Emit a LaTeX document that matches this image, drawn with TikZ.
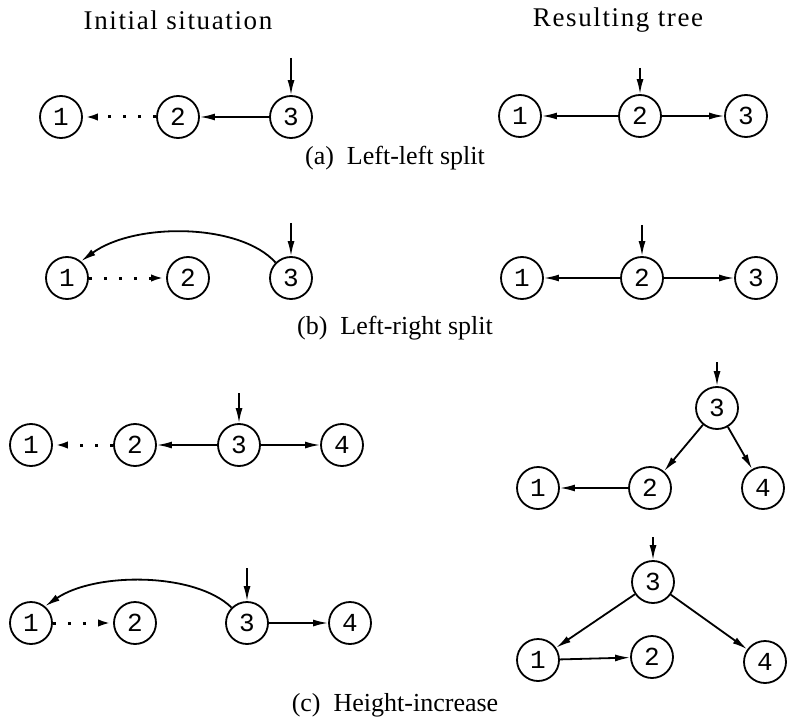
\documentclass[tikz,border=0pt]{standalone}
\usepackage{fontspec}
\setmainfont{Liberation Serif}
\setmonofont{Liberation Mono}
\usetikzlibrary{arrows.meta}
\begin{document}
\begin{tikzpicture}[x=1pt,y=-1pt,
  nd/.style={circle,draw,line width=1.8pt,minimum size=42pt,inner sep=0pt,font=\ttfamily\fontsize{26}{26}\selectfont},
  arr/.style={line width=1.8pt,-{Latex[length=15pt,width=7pt]}},
  dotarr/.style={line width=3pt,dash pattern=on 3pt off 12pt,-{Latex[length=15pt,width=7pt]}},
  lbl/.style={font=\fontsize{26}{28}\selectfont},
  ttl/.style={font=\fontsize{27}{30}\selectfont\addfontfeature{LetterSpace=6}}]
\useasboundingbox (0,0) rectangle (787,722);
% titles
\node[ttl] (t1) at (178,20) {Initial situation};
\node[ttl] (t2) at (618,20) {Resulting tree};
% (a) initial
\node[nd] (a1) at (61,117) {1};
\node[nd] (a2) at (178,117) {2};
\node[nd] (a3) at (291,117) {3};
\coordinate (ia) at (291,58);
\draw[dotarr] (a2) -- (a1);
\draw[arr] (a3) -- (a2);
\draw[arr] (ia) -- (a3);
% (a) result
\node[nd] (ra1) at (520,116) {1};
\node[nd] (ra2) at (640,116) {2};
\node[nd] (ra3) at (746,116) {3};
\coordinate (ira) at (640,68);
\draw[arr] (ra2) -- (ra1);
\draw[arr] (ra2) -- (ra3);
\draw[arr] (ira) -- (ra2);
\node[lbl] (ca) at (395,158) {(a)\ \ Left-left split};
% (b) initial
\node[nd] (b1) at (67,278) {1};
\node[nd] (b2) at (188,278) {2};
\node[nd] (b3) at (291,278) {3};
\coordinate (ib) at (291,223);
\draw[dotarr] (b1) -- (b2);
\draw[arr] (b3.135) .. controls (240,223) and (135,222) .. (b1.50);
\draw[arr] (ib) -- (b3);
% (b) result
\node[nd] (rb1) at (522,278) {1};
\node[nd] (rb2) at (642,278) {2};
\node[nd] (rb3) at (756,278) {3};
\coordinate (irb) at (642,225);
\draw[arr] (rb2) -- (rb1);
\draw[arr] (rb2) -- (rb3);
\draw[arr] (irb) -- (rb2);
\node[lbl] (cb) at (395,328) {(b)\ \ Left-right split};
% (c) initial top
\node[nd] (c1) at (31,445) {1};
\node[nd] (c2) at (135,445) {2};
\node[nd] (c3) at (239,445) {3};
\node[nd] (c4) at (342,445) {4};
\coordinate (ic) at (239,393);
\draw[dotarr] (c2) -- (c1);
\draw[arr] (c3) -- (c2);
\draw[arr] (c3) -- (c4);
\draw[arr] (ic) -- (c3);
% (c) result top
\node[nd] (rc3) at (717,408) {3};
\node[nd] (rc2) at (650,488) {2};
\node[nd] (rc1) at (538,488) {1};
\node[nd] (rc4) at (763,488) {4};
\coordinate (irc) at (717,362);
\draw[arr] (rc3) -- (rc2);
\draw[arr] (rc3) -- (rc4);
\draw[arr] (rc2) -- (rc1);
\draw[arr] (irc) -- (rc3);
% (c) initial bottom
\node[nd] (d1) at (31,623) {1};
\node[nd] (d2) at (135,623) {2};
\node[nd] (d3) at (247,623) {3};
\node[nd] (d4) at (350,623) {4};
\coordinate (id) at (247,568);
\draw[dotarr] (d1) -- (d2);
\draw[arr] (d3.135) .. controls (195,572) and (95,572) .. (d1.50);
\draw[arr] (d3) -- (d4);
\draw[arr] (id) -- (d3);
% (c) result bottom
\node[nd] (rd3) at (653,582) {3};
\node[nd] (rd1) at (538,660) {1};
\node[nd] (rd2) at (652,657) {2};
\node[nd] (rd4) at (765,662) {4};
\coordinate (ird) at (653,537);
\draw[arr] (rd3) -- (rd1);
\draw[arr] (rd3) -- (rd4);
\draw[arr] (rd1) -- (rd2);
\draw[arr] (ird) -- (rd3);
\node[lbl] (cc) at (395,705) {(c)\ \ Height-increase};
\end{tikzpicture}
\end{document}
